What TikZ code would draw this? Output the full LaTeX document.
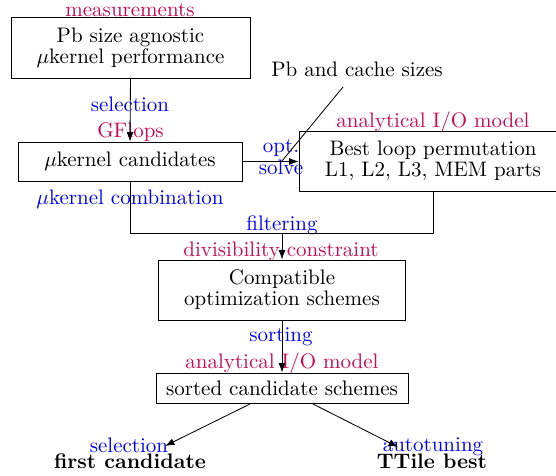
\documentclass[tikz,border=0pt]{standalone}
\usetikzlibrary{arrows.meta}
\definecolor{lblred}{RGB}{204,10,82}
\begin{document}
\begin{tikzpicture}[x=0.47619pt,y=-0.47619pt,
  box/.style={draw, align=center, inner sep=0pt, font=\fontsize{10}{10}\selectfont},
  red lbl/.style={text=lblred, anchor=base, inner sep=0pt},
  blue lbl/.style={text=blue, anchor=base, inner sep=0pt},
  plain lbl/.style={anchor=base, inner sep=0pt},
  arr/.style={-{Latex[length=4.5pt,width=3.3pt]}}]
\useasboundingbox (0,0) rectangle (556,476);
% boxes
\node[box, minimum width=113.8pt, minimum height=29pt] (b1) at (130.5,47.5) {Pb size agnostic\\$\mu$kernel performance};
\node[box, minimum width=106.7pt, minimum height=18.6pt] (b2) at (130,161.5) {$\mu$kernel candidates};
\node[box, minimum width=127.6pt, minimum height=28.6pt] (b3) at (433,161) {Best loop permutation\\L1, L2, L3, MEM parts};
\node[box, minimum width=118pt, minimum height=28.6pt] (b4) at (282,290) {Compatible\\optimization schemes};
\node[box, minimum width=120pt, minimum height=14.3pt] (b5) at (282,388) {sorted candidate schemes};
% leaves
\node[plain lbl, font=\bfseries] (first) at (130,469) {first candidate};
\node[plain lbl, font=\bfseries] (ttile) at (432,469) {TTile best};
% labels
\node[red lbl] (lmeas) at (130,17) {measurements};
\node[blue lbl] (lsel1) at (130,112) {selection};
\node[red lbl] (lgf) at (130.5,138) {GFlops};
\node[plain lbl] (pbc) at (357,77) {Pb and cache sizes};
\node[red lbl] (lio1) at (433,128) {analytical I/O model};
\node[blue lbl] (lopt) at (281,153) {opt.};
\node[blue lbl] (lsolve) at (281,175) {solve};
\node[blue lbl] (lcomb) at (130,205) {$\mu$kernel combination};
\node[blue lbl] (lfilt) at (282,231) {filtering};
\node[red lbl] (ldiv) at (281,257) {divisibility constraint};
\node[blue lbl] (lsort) at (281,342) {sorting};
\node[red lbl] (lio2) at (282,369) {analytical I/O model};
\node[blue lbl] (lsel2) at (129,453) {selection};
\node[blue lbl] (lauto) at (433,452) {autotuning};
% coordinates
\coordinate (pbcfoot) at (343,87);
\coordinate (pbctip) at (282,161);
\coordinate (join) at (282,233);
\coordinate (s5l) at (250,404);
\coordinate (s5r) at (313,404);
\coordinate (endl) at (165,446);
\coordinate (endr) at (398,447);
% connectors
\draw[arr] (b1.south) -- (b2.north);
\draw[arr] (b2.east) -- (b3.west |- b2.east);
\draw (pbcfoot) -- (pbctip);
\draw (b2.south) |- (b3.south |- join) -- (b3.south);
\draw[arr] (join) -- (b4.north);
\draw[arr] (b4.south) -- (b5.north);
\draw[arr] (s5l) -- (endl);
\draw[arr] (s5r) -- (endr);
\end{tikzpicture}
\end{document}
